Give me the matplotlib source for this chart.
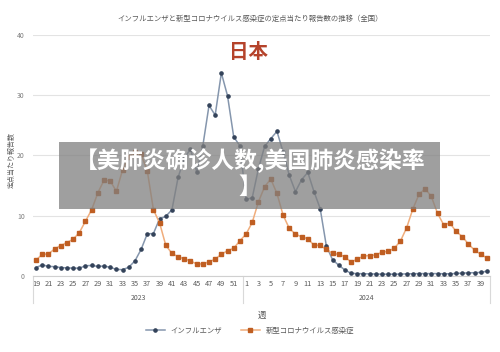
import matplotlib
matplotlib.use("Agg")
import matplotlib.pyplot as plt
from matplotlib.patches import Rectangle
from matplotlib.lines import Line2D
import matplotlib.transforms as mtransforms

plt.rcParams['font.family'] = ['Noto Sans CJK JP', 'DejaVu Sans']

title = "インフルエンザと新型コロナウイルス感染症の定点当たり報告数の推移（全国）"
ylabel = "定点当たり報告数"
xlabel = "週"
series_names = ["インフルエンザ", "新型コロナウイルス感染症"]
years = ["2023", "2024"]
weeks_2023 = list(range(19, 53))
weeks_2024 = list(range(1, 41))

influenza = [1.4, 1.85, 1.6, 1.55, 1.4, 1.35, 1.3, 1.3, 1.7, 1.75, 1.6, 1.65, 1.45, 1.1, 1.05, 1.45,
             2.5, 4.4, 7.0, 7.05, 9.5, 9.9, 11.0, 16.4, 19.5, 21.1, 17.3, 21.6, 28.3, 26.7, 33.7, 29.9,
             23.1, 21.6,
             12.7, 13.0, 17.8, 21.5, 22.8, 24.0, 20.6, 16.7, 14.0, 16.0, 17.2, 14.0, 11.2, 5.0, 2.7, 1.8,
             1.0, 0.45, 0.4, 0.38, 0.35, 0.33, 0.3, 0.3, 0.3, 0.32, 0.35, 0.38, 0.4, 0.4, 0.4, 0.4,
             0.37, 0.37, 0.42, 0.48, 0.52, 0.55, 0.6, 0.8]
covid = [2.65, 3.6, 3.65, 4.5, 5.05, 5.55, 6.1, 7.2, 9.1, 11.0, 13.8, 15.9, 15.8, 14.05, 17.6, 19.8,
         20.5, 20.2, 17.5, 11.0, 8.8, 5.1, 3.75, 3.2, 2.85, 2.5, 2.0, 2.0, 2.35, 2.8, 3.6, 4.2,
         4.6, 5.85,
         6.95, 8.9, 12.3, 14.8, 16.1, 13.7, 10.1, 7.9, 6.95, 6.5, 6.2, 5.1, 5.1, 4.4, 3.75, 3.6,
         3.2, 2.3, 2.8, 3.3, 3.4, 3.5, 3.95, 4.1, 4.6, 5.8, 8.0, 11.1, 13.55, 14.5, 13.2, 10.4,
         8.5, 8.8, 7.4, 6.55, 5.3, 4.3, 3.6, 3.0]

overlay_text = "【美肺炎确诊人数,美国肺炎感染率\n】"
country = "日本"

week_labels = weeks_2023 + weeks_2024
x = list(range(len(week_labels)))

fig = plt.figure(figsize=(5.0, 3.52), dpi=100)
ax = fig.add_axes([0.066, 0.2159, 0.914, 0.6847])

ax.plot(x, influenza, color='#8596ad', lw=1.1, marker='o', ms=2.3,
        mfc='#34435a', mec='#34435a', label=series_names[0], zorder=3)
ax.plot(x, covid, color='#f0ad7c', lw=1.1, marker='s', ms=2.5,
        mfc='#bf5e22', mec='#bf5e22', label=series_names[1], zorder=3)

ax.set_xlim(-0.5, len(x) - 0.5)
ax.set_ylim(0, 40)
ax.set_yticks([0, 10, 20, 30, 40])
ax.yaxis.grid(True, color='#e3e3e3', lw=0.8)
ax.set_axisbelow(True)
for s in ['top', 'right', 'left']:
    ax.spines[s].set_visible(False)
ax.spines['bottom'].set_color('#d0d0d0')
ax.tick_params(axis='y', length=0, labelsize=5, labelcolor='#7f7f7f', pad=6)
ticks = [i for i, w in enumerate(week_labels) if w % 2 == 1]
ax.set_xticks(ticks)
ax.set_xticklabels([str(week_labels[i]) for i in ticks])
ax.tick_params(axis='x', length=0, labelsize=5.3, labelcolor='#595959', pad=3)

# year group separators and labels
trans = mtransforms.blended_transform_factory(ax.transData, ax.transAxes)
n23 = len(weeks_2023)
for xv in [-0.5, n23 - 0.5, len(x) - 0.5]:
    ax.add_line(Line2D([xv, xv], [0, -0.11], transform=trans, color='#d9d9d9', lw=0.8, clip_on=False))
ax.text((n23 - 1) / 2, -0.093, years[0], transform=trans, ha='center', va='center', fontsize=5, color='#595959')
ax.text(n23 + (len(weeks_2024) - 1) / 2, -0.093, years[1], transform=trans, ha='center', va='center', fontsize=5, color='#595959')

fig.text(0.524, 1 - 315 / 352, xlabel, ha='center', va='center', fontsize=6, color='#595959')
fig.text(0.024, 1 - 160 / 352, ylabel, ha='center', va='center', rotation=90, fontsize=5, color='#595959')
fig.text(0.5, 1 - 19 / 352, title, ha='center', va='center', fontsize=5.3, color='#595959')
fig.text(0.497, 1 - 53 / 352, country, ha='center', va='center', fontsize=14, color='#b5432b', fontweight='bold')

fig.legend(loc='center', bbox_to_anchor=(0.5, 1 - 331 / 352), ncol=2, frameon=False,
           fontsize=5.3, handlelength=2.6, columnspacing=2.5, labelcolor='#595959')

fig.patches.append(Rectangle((59 / 500, 1 - 209 / 352), 381 / 500, 67 / 352, transform=fig.transFigure,
                             facecolor='#7f7f7f', alpha=0.75, edgecolor='none', zorder=5))
fig.text(0.5, 1 - 174 / 352, overlay_text, ha='center', va='center', fontsize=16.5, color='white',
         fontweight='bold', family=['Noto Sans CJK SC', 'DejaVu Sans'], linespacing=1.15, zorder=6)

fig.savefig('out.png', dpi=100)
